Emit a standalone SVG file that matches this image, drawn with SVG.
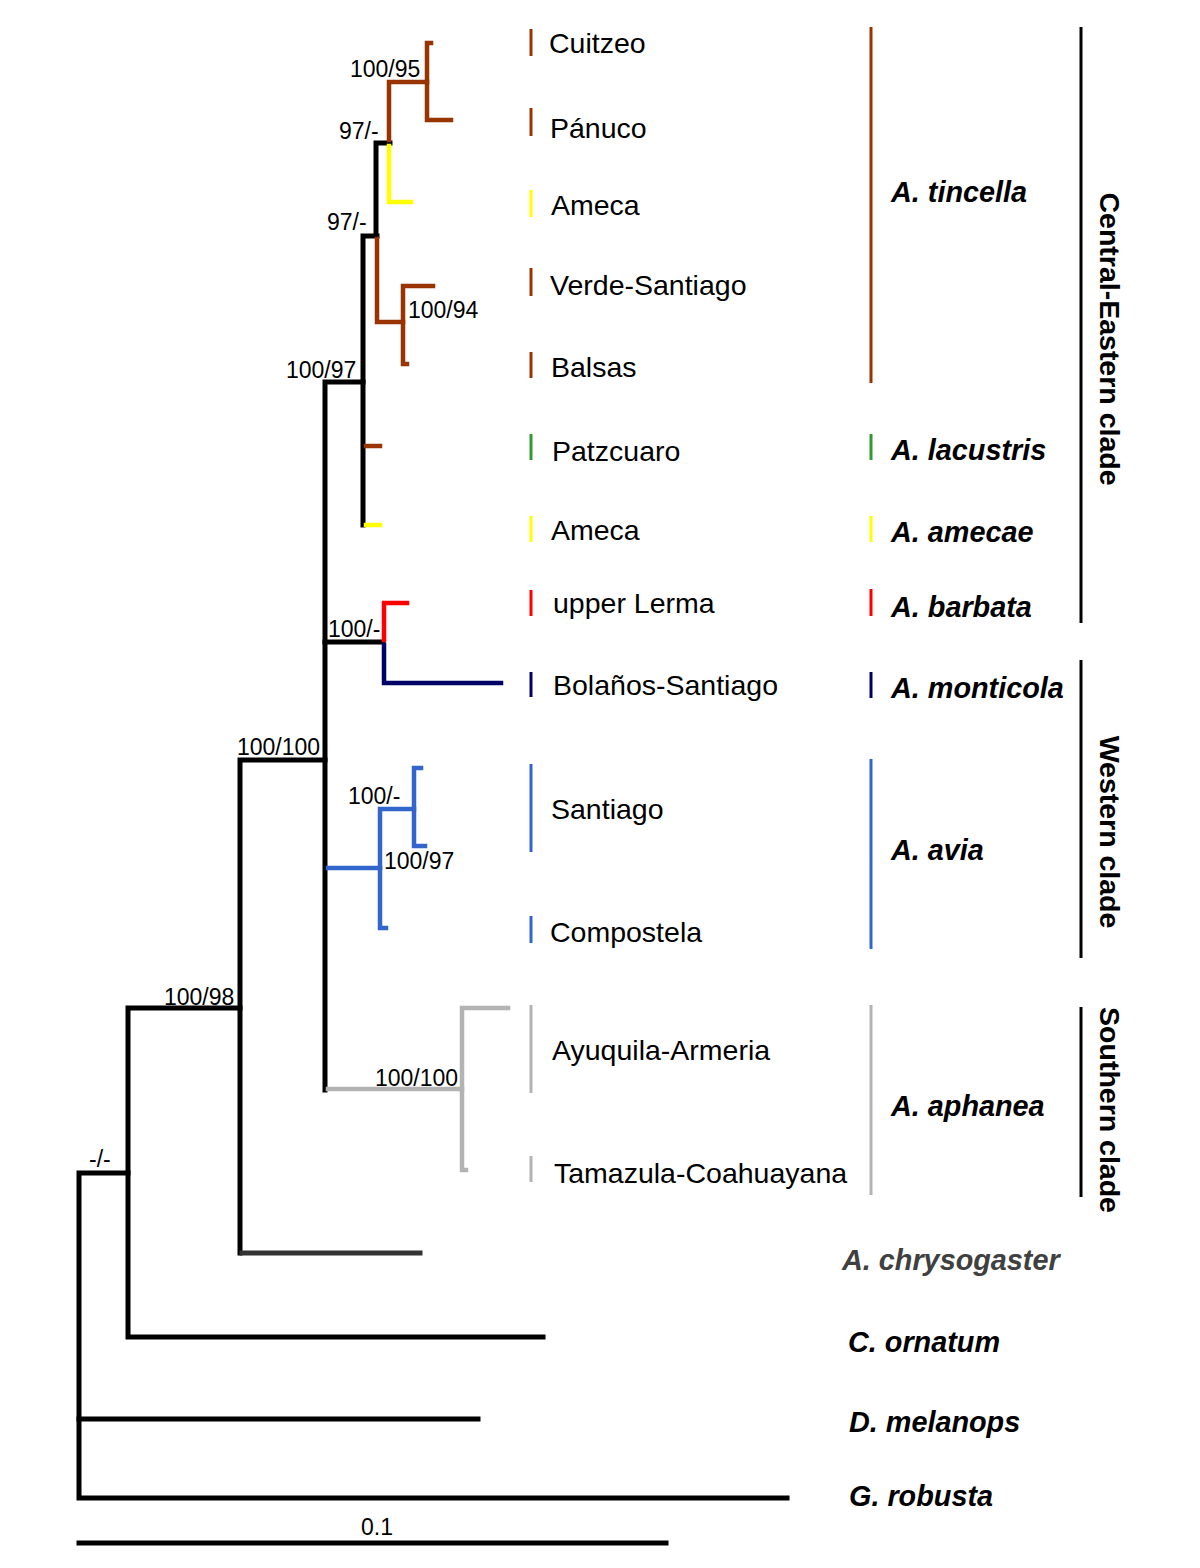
<svg xmlns="http://www.w3.org/2000/svg" width="1200" height="1568" viewBox="0 0 1200 1568">
<style>
.b{fill:none;stroke-linecap:square;stroke-linejoin:miter}
.k{stroke:#000;stroke-width:5}
.br{stroke:#993300;stroke-width:4.5}
.ye{stroke:#ffff00;stroke-width:4.5}
.rd{stroke:#ff0000;stroke-width:4.5}
.nv{stroke:#000066;stroke-width:4.5}
.bl{stroke:#3366cc;stroke-width:4.5}
.gy{stroke:#b3b3b3;stroke-width:4.5}
.dg{stroke:#333333;stroke-width:5}
.bar{stroke-width:3}
.sup{font-family:'Liberation Sans',Arial,sans-serif;font-size:23px;fill:#000}
.loc{font-family:'Liberation Sans',Arial,sans-serif;font-size:28.5px;fill:#000}
.sp{font-family:'Liberation Sans',Arial,sans-serif;font-size:28.8px;font-weight:bold;font-style:italic;fill:#000}
.cl{font-family:'Liberation Sans',Arial,sans-serif;font-size:28.5px;font-weight:bold;fill:#000;text-anchor:middle}
</style>
<rect width="1200" height="1568" fill="#fff"/>
<g id="connectors">
<path class="b k" d="M128,1173 H79 V1498 H787"/>
<path class="b k" d="M79,1419 H478"/>
<path class="b k" d="M240,1008 H128 V1337 H543"/>
<path class="b k" d="M325,760 H240 V1253"/>
<path class="b dg" d="M242,1253 H420"/>
<path class="b k" d="M363,382 H325 V1090"/>
<path class="b gy" d="M328,1089 H462"/>
<path class="b gy" d="M508,1008 H462 V1170 H466"/>
<path class="b k" d="M325,642 H383"/>
<path class="b k" d="M377,236 H363 V525"/>
<path class="b k" d="M390,143 H376 V234"/>
<path class="b br" d="M431,43 H427 V120 H451"/>
<path class="b br" d="M427,82 H389 V140"/>
<path class="b ye" d="M389,146 V202 H411"/>
<path class="b br" d="M377,239 V322 H403"/>
<path class="b br" d="M433,286 H403 V364 H407"/>
<path class="b br" d="M366,446 H380"/>
<path class="b ye" d="M366,525 H380"/>
<path class="b rd" d="M384,640 V603 H407"/>
<path class="b nv" d="M384,645 V683 H501"/>
<path class="b bl" d="M328,868 H380"/>
<path class="b bl" d="M386,928 H380 V809 H414"/>
<path class="b bl" d="M421,768 H414 V846 H425"/>
<path class="b k" d="M79,1543 H666"/>
</g>
<g id="support">
<text class="sup" x="350" y="77">100/95</text>
<text class="sup" x="339" y="139">97/-</text>
<text class="sup" x="327" y="230">97/-</text>
<text class="sup" x="408" y="318">100/94</text>
<text class="sup" x="286" y="378">100/97</text>
<text class="sup" x="328" y="637">100/-</text>
<text class="sup" x="237" y="755">100/100</text>
<text class="sup" x="348" y="804">100/-</text>
<text class="sup" x="384" y="869">100/97</text>
<text class="sup" x="164" y="1005">100/98</text>
<text class="sup" x="375" y="1086">100/100</text>
<text class="sup" x="89" y="1167">-/-</text>
<text class="sup" x="377" y="1535" text-anchor="middle">0.1</text>
</g>
<g id="loc-cuitzeo"><path class="bar" stroke="#993300" d="M531,29 V56"/><text class="loc" x="549" y="53">Cuitzeo</text></g>
<g id="loc-panuco"><path class="bar" stroke="#993300" d="M531,108 V136"/><text class="loc" x="550" y="138">Pánuco</text></g>
<g id="loc-ameca1"><path class="bar" stroke="#ffff00" d="M531,190 V217"/><text class="loc" x="551" y="215">Ameca</text></g>
<g id="loc-verde"><path class="bar" stroke="#993300" d="M531,268 V296"/><text class="loc" x="550" y="295">Verde-Santiago</text></g>
<g id="loc-balsas"><path class="bar" stroke="#993300" d="M531,352 V378"/><text class="loc" x="551" y="377">Balsas</text></g>
<g id="loc-patzcuaro"><path class="bar" stroke="#339933" d="M531,434 V460"/><text class="loc" x="552" y="461">Patzcuaro</text></g>
<g id="loc-ameca2"><path class="bar" stroke="#ffff00" d="M531,516 V542"/><text class="loc" x="551" y="540">Ameca</text></g>
<g id="loc-lerma"><path class="bar" stroke="#ff0000" d="M531,590 V616"/><text class="loc" x="553" y="613">upper Lerma</text></g>
<g id="loc-bolanos"><path class="bar" stroke="#000066" d="M531,672 V697"/><text class="loc" x="553" y="695">Bolaños-Santiago</text></g>
<g id="loc-santiago"><path class="bar" stroke="#3366cc" d="M531,764 V852"/><text class="loc" x="551" y="819">Santiago</text></g>
<g id="loc-compostela"><path class="bar" stroke="#3366cc" d="M531,916 V943"/><text class="loc" x="550" y="942">Compostela</text></g>
<g id="loc-ayuquila"><path class="bar" stroke="#b3b3b3" d="M531,1005 V1093"/><text class="loc" x="552" y="1060">Ayuquila-Armeria</text></g>
<g id="loc-tamazula"><path class="bar" stroke="#b3b3b3" d="M531,1156 V1182"/><text class="loc" x="554" y="1183">Tamazula-Coahuayana</text></g>
<g id="sp-tincella"><path class="bar" stroke="#993300" d="M871,27 V383"/><text class="sp" x="891" y="202">A. tincella</text></g>
<g id="sp-lacustris"><path class="bar" stroke="#339933" d="M871,434 V460"/><text class="sp" x="891" y="460">A. lacustris</text></g>
<g id="sp-amecae"><path class="bar" stroke="#ffff00" d="M871,516 V542"/><text class="sp" x="891" y="542">A. amecae</text></g>
<g id="sp-barbata"><path class="bar" stroke="#ff0000" d="M871,589 V616"/><text class="sp" x="891" y="617">A. barbata</text></g>
<g id="sp-monticola"><path class="bar" stroke="#000066" d="M871,672 V698"/><text class="sp" x="891" y="698">A. monticola</text></g>
<g id="sp-avia"><path class="bar" stroke="#3366cc" d="M871,759 V949"/><text class="sp" x="891" y="860">A. avia</text></g>
<g id="sp-aphanea"><path class="bar" stroke="#b3b3b3" d="M871,1005 V1195"/><text class="sp" x="891" y="1116">A. aphanea</text></g>
<g id="sp-chrysogaster"><text class="sp" x="842" y="1270" style="fill:#404040">A. chrysogaster</text></g>
<g id="sp-ornatum"><text class="sp" x="848" y="1352">C. ornatum</text></g>
<g id="sp-melanops"><text class="sp" x="849" y="1432">D. melanops</text></g>
<g id="sp-robusta"><text class="sp" x="849" y="1506">G. robusta</text></g>
<g id="clade-central"><path class="bar" stroke="#000" d="M1081,27 V623"/><text class="cl" transform="translate(1100,339) rotate(90)">Central-Eastern clade</text></g>
<g id="clade-western"><path class="bar" stroke="#000" d="M1081,660 V958"/><text class="cl" transform="translate(1100,832) rotate(90)">Western clade</text></g>
<g id="clade-southern"><path class="bar" stroke="#000" d="M1081,1007 V1197"/><text class="cl" transform="translate(1100,1110) rotate(90)">Southern clade</text></g>
</svg>
